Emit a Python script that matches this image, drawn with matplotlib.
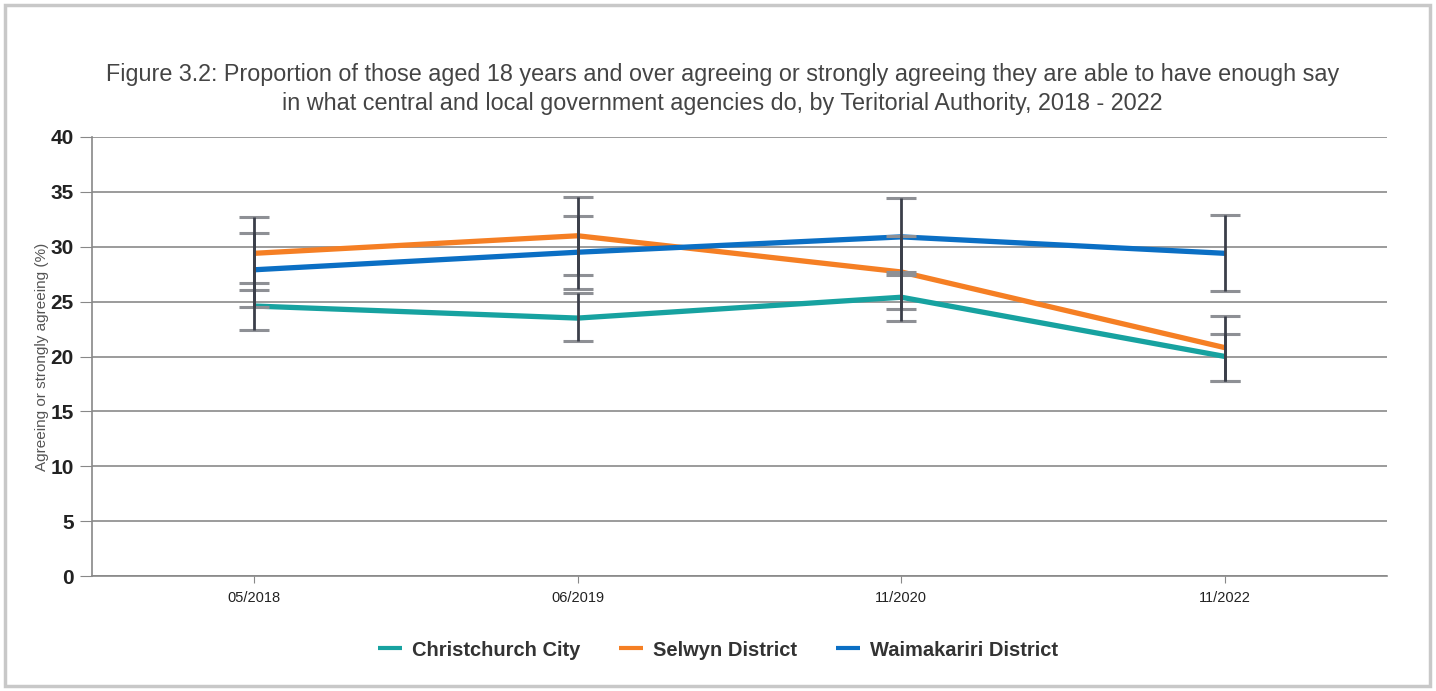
import matplotlib.pyplot as plt
import numpy as np
from matplotlib.patches import Rectangle

# Survey waves
periods = ['05/2018', '06/2019', '11/2020', '11/2022']

# Point estimates (%)
christchurch = [24.6, 23.5, 25.4, 20.0]
selwyn = [29.4, 31.0, 27.7, 20.8]
waimakariri = [27.9, 29.5, 30.9, 29.4]

# Confidence interval bounds (%)
christchurch_lo = [22.4, 21.4, 23.2, 17.8]
christchurch_hi = [26.7, 25.75, 27.7, 22.05]
selwyn_lo = [26.05, 27.4, 24.3, 17.8]
selwyn_hi = [32.7, 34.5, 31.0, 23.7]
waimakariri_lo = [24.5, 26.15, 27.4, 26.0]
waimakariri_hi = [31.25, 32.8, 34.4, 32.9]

colors = {'Christchurch City': '#17a2a0',
          'Selwyn District': '#f57f24',
          'Waimakariri District': '#0b6fc4'}

plt.rcParams['font.family'] = ['Liberation Sans', 'DejaVu Sans']

fig = plt.figure(figsize=(14.36, 6.91), dpi=100)
ax = fig.add_axes([92 / 1436, 1 - 576 / 691, (1387 - 92) / 1436, (576 - 137) / 691])

# light frame around the whole figure
fig.patches.append(Rectangle((5 / 1436, 5 / 691), 1425 / 1436, 681 / 691,
                             transform=fig.transFigure, fill=False,
                             edgecolor='#c8c8c8', linewidth=2.5))

x = np.arange(len(periods))
series = [
    ('Christchurch City', christchurch, christchurch_lo, christchurch_hi),
    ('Selwyn District', selwyn, selwyn_lo, selwyn_hi),
    ('Waimakariri District', waimakariri, waimakariri_lo, waimakariri_hi),
]

for name, vals, lo, hi in series:
    ax.plot(x, vals, color=colors[name], linewidth=3.8, label=name,
            solid_capstyle='butt', zorder=3)

for name, vals, lo, hi in series:
    vals = np.array(vals)
    yerr = [vals - np.array(lo), np.array(hi) - vals]
    eb = ax.errorbar(x, vals, yerr=yerr, fmt='none', ecolor='#3b3f4a',
                     elinewidth=2, capsize=11, capthick=2.2, zorder=4)
    for cap in eb[1]:
        cap.set_markeredgecolor('#8e9095')
        cap.set_zorder(3.5)

ax.set_xlim(-0.5, len(periods) - 0.5)
ax.set_ylim(0, 40)
ax.set_yticks(range(0, 41, 5))
ax.set_xticks(x)
ax.set_xticklabels(periods, fontsize=10.5, color='#222222')
ax.tick_params(axis='y', length=9, color='#888888', labelsize=15, pad=4,
               labelcolor='#222222')
ax.tick_params(axis='x', length=5, color='#888888', pad=6)
for lab in ax.get_yticklabels():
    lab.set_fontweight('bold')

ax.grid(axis='y', color='#8a8a8a', linewidth=1.2)
ax.set_axisbelow(True)
for side in ['top', 'right']:
    ax.spines[side].set_visible(False)
ax.spines['left'].set_color('#888888')
ax.spines['bottom'].set_color('#888888')
ax.spines['left'].set_linewidth(1.2)
ax.spines['bottom'].set_linewidth(1.2)

ax.set_ylabel('Agreeing or strongly agreeing (%)', fontsize=11, color='#555555',
              labelpad=1)

fig.text(0.503, 1 - 89 / 691,
         'Figure 3.2: Proportion of those aged 18 years and over agreeing or strongly agreeing they are able to have enough say\n'
         'in what central and local government agencies do, by Teritorial Authority, 2018 - 2022',
         ha='center', va='center', fontsize=16.8, color='#444444', linespacing=1.35)

leg = fig.legend(loc='center', bbox_to_anchor=(0.5, 1 - 650 / 691), ncol=3,
                 frameon=False, handlelength=1.2, handletextpad=0.5,
                 columnspacing=1.9, prop={'size': 14.5, 'weight': 'bold'})
for t in leg.get_texts():
    t.set_color('#333333')
for h in leg.legend_handles:
    h.set_linewidth(3)

fig.savefig('out.png', dpi=100)
